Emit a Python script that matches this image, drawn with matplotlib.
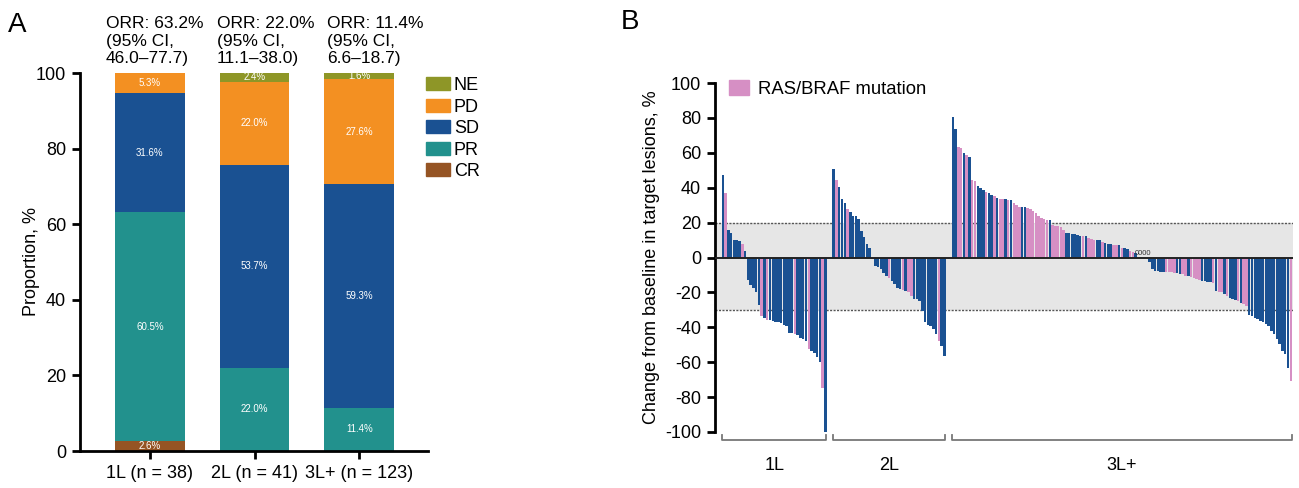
import numpy as np
import matplotlib
matplotlib.use("Agg")
import matplotlib.pyplot as plt
from matplotlib.patches import Patch
import matplotlib.transforms as mtransforms

plt.rcParams["font.family"] = ["Liberation Sans", "DejaVu Sans"]
plt.rcParams["axes.unicode_minus"] = False

# ---- panel A data ----
lines = ["1L (n = 38)", "2L (n = 41)", "3L+ (n = 123)"]
cr = [2.6, 0.0, 0.0]
pr = [60.5, 22.0, 11.4]
sd = [31.6, 53.7, 59.3]
pd_ = [5.3, 22.0, 27.6]
ne = [0.0, 2.4, 1.6]
orr_text = ["ORR: 63.2%\n(95% CI,\n46.0\u201377.7)",
            "ORR: 22.0%\n(95% CI,\n11.1\u201338.0)",
            "ORR: 11.4%\n(95% CI,\n6.6\u201318.7)"]

# ---- panel B data (best % change, sorted per line) ----
wf_1l = [47, 37, 16, 14, 10, 10, 9.5, 8, 4, -13, -15.7, -17.6, -20, -27, -33.4, -34.4,
         -35.7, -36, -36.3, -36.7, -37.2, -37.8, -38.4, -39, -43, -43.5, -44, -44.5, -46,
         -46.5, -47.8, -52.5, -53.5, -55, -57.3, -60, -75, -100]
wf_2l = [51, 44.5, 40.3, 33.8, 31.5, 28, 26, 24, 23.5, 22.3, 15.3, 11.5, 7.6, 5.7, -1,
         -4.8, -5.2, -6.7, -8.6, -10.5, -11.8, -13.4, -15.3, -17.2, -18, -18.7, -19, -20,
         -22.3, -23.5, -24, -25, -30.5, -37.2, -38.6, -39, -41, -44, -47.8, -50.6, -56.7]
wf_3l = [80.4, 73.7, 63.6, 62.7, 59.8, 58.5, 57.5, 44.5, 43.6, 40.7, 39.7, 38.4, 37.8, 36.9,
         35.9, 35, 34, 33.6, 33.4, 33.4, 33, 33, 31.1, 30.2, 29.2, 28.8, 28.8, 28.3, 27.7,
         26.4, 25.4, 23.9, 22.5, 22, 21.6, 21.6,
         18.7, 18.1, 17.8, 17.5, 15.5, 14, 14, 13.5, 13.2, 13, 12.6, 12.2, 12.2, 11, 10.7,
         10.3, 10.3, 10, 8.8, 8.4, 8, 7.8, 7.3, 6.9, 6.9, 5.5, 5.3, 4.6, 4, 3, 2.7,
         0, 0, 0, 0,
         -2.7, -6.5, -7.8, -8, -8.1, -8.2, -8.3, -8.4, -8.5, -8.6,
         -8.8, -9.2, -9.6, -10.5, -10.5, -10.9, -11.5, -12.4, -12.8, -13.4, -13.4, -14,
         -14.3, -14.7, -19.1, -19.7, -20, -21, -22.3, -23, -23.9, -24.5, -24.8, -25.8,
         -26.7, -27.7, -33, -33.4, -34.4, -35.3, -36.3, -36.9, -38.2, -39.5, -42, -43.9,
         -46.8, -49.7, -53.5, -55.4, -63.6, -70.7]
# b = wild type, p = RAS/BRAF mutation
mut_1l = "bpbbbbbp" + "bbbbbb" + "pbp" + "bbbbbbbbb" + "p" + "bbbb" + "p" + "bbbb" + "pb"
mut_2l = "bp" + "bbb" + "p" + "bbbbbbbb" + "p" + "bbbbb" + "p" + "bbbb" + "p" + "b" + "pp" + "bbbbbbbbb" + "p" + "bb"
mut_3l = ("bbppbpbppbbbpbbpbppbpbpppbbppppppppb"
          + "pppppbbbbbbpbpppbbpbbbppbpbbppb"
          + "bbbb" + "bbbbbbpppp"
          + "bbppbppppbbbbpbppbpbbbpbpp" + "b" * 15 + "p")
group_names = ["1L", "2L", "3L+"]

c_ne, c_pd, c_sd, c_pr, c_cr = "#8e9627", "#f39022", "#1a5192", "#22918d", "#955424"
c_blue, c_pink, c_band = "#1a5192", "#d68fc4", "#e6e6e6"

fig = plt.figure(figsize=(12.99, 4.88), dpi=100)

# ================= Panel A =================
axA = fig.add_axes([80 / 1299, 1 - 451 / 488, 348 / 1299, 378 / 488])
x = np.arange(len(lines))
w = 0.667
bottom = np.zeros(3)
for vals, col in [(cr, c_cr), (pr, c_pr), (sd, c_sd), (pd_, c_pd), (ne, c_ne)]:
    vals = np.array(vals)
    axA.bar(x, vals, w, bottom=bottom, color=col, edgecolor="none")
    for i in range(3):
        if vals[i] > 0:
            axA.text(x[i], bottom[i] + vals[i] / 2, f"{vals[i]:.1f}%", color="white",
                     ha="center", va="center", fontsize=7)
    bottom += vals

axA.set_xlim(-0.667, 2.657)
axA.set_ylim(0, 100)
axA.set_yticks([0, 20, 40, 60, 80, 100])
axA.set_xticks(x)
axA.set_xticklabels(lines)
for s in ["top", "right"]:
    axA.spines[s].set_visible(False)
for s in ["left", "bottom"]:
    axA.spines[s].set_linewidth(2)
axA.tick_params(width=2, length=6, labelsize=13, pad=4)
axA.set_ylabel("Proportion, %", fontsize=13)
axA.yaxis.set_label_coords(-0.116, 0.5)

orr_dx = [-0.42, -0.36, -0.31]
for i in range(3):
    axA.text(x[i] + orr_dx[i], 101.8, orr_text[i], ha="left", va="bottom",
             fontsize=12.5, linespacing=1.22, transform=axA.transData, clip_on=False)

handles = [Patch(color=c) for c in [c_ne, c_pd, c_sd, c_pr, c_cr]]
fig.legend(handles, ["NE", "PD", "SD", "PR", "CR"], loc="upper left",
           bbox_to_anchor=(426 / 1299, 1 - 77 / 488), frameon=False, fontsize=13,
           handlelength=1.35, handleheight=0.75, labelspacing=0.25, handletextpad=0.2,
           borderaxespad=0, borderpad=0)

fig.text(8 / 1299, 1 - 25 / 488, "A", fontsize=20, va="center", ha="left")
fig.text(621 / 1299, 1 - 22 / 488, "B", fontsize=20, va="center", ha="left")

# ================= Panel B =================
axB = fig.add_axes([715 / 1299, 1 - 432 / 488, 578 / 1299, 349 / 488])
gap = 2
start = 0
trans = mtransforms.blended_transform_factory(axB.transData, axB.transAxes)
for name, vals, muts in [("1L", wf_1l, mut_1l), ("2L", wf_2l, mut_2l), ("3L+", wf_3l, mut_3l)]:
    pos = start + np.arange(len(vals))
    cols = [c_pink if m == "p" else c_blue for m in muts]
    axB.bar(pos, vals, 0.9, color=cols, edgecolor="none", zorder=2)
    zeros = pos[np.array(vals) == 0]
    if len(zeros):
        axB.text(zeros.mean(), 0.3, "0" * len(zeros), fontsize=5.5, color="#333333",
                 ha="center", va="bottom", zorder=3)
    x0, x1 = pos[0] - 0.3, pos[-1] + 0.3
    axB.plot([x0, x0, x1, x1], [-0.009, -0.024, -0.024, -0.009], color="#777777",
             lw=1.3, transform=trans, clip_on=False)
    axB.text((x0 + x1) / 2, -0.095, name, fontsize=13, ha="center", va="center",
             transform=trans)
    start = pos[-1] + 1 + gap

axB.axhspan(-30, 20, color=c_band, zorder=0, lw=0)
axB.axhline(20, color="#555555", lw=1.0, ls=(0, (1.5, 1)), zorder=1)
axB.axhline(-30, color="#555555", lw=1.0, ls=(0, (1.5, 1)), zorder=1)
axB.axhline(0, color="#222222", lw=1.4, zorder=3)
axB.set_xlim(-2.85, start - gap - 1 + 0.8)
axB.set_ylim(-100, 100)
axB.set_yticks(np.arange(-100, 101, 20))
axB.set_xticks([])
for s in ["top", "right", "bottom"]:
    axB.spines[s].set_visible(False)
axB.spines["left"].set_linewidth(2)
axB.tick_params(axis="y", width=2, length=6, labelsize=13, pad=4)
axB.set_ylabel("Change from baseline in target lesions, %", fontsize=13)
axB.yaxis.set_label_coords(-0.095, 0.5)
axB.legend([Patch(color=c_pink)], ["RAS/BRAF mutation"], loc="upper left",
           bbox_to_anchor=(0.024, 1.01), frameon=False, fontsize=13.3,
           handlelength=1.1, handleheight=0.9, handletextpad=0.5, borderaxespad=0, borderpad=0)

fig.savefig("out.png", dpi=100)
